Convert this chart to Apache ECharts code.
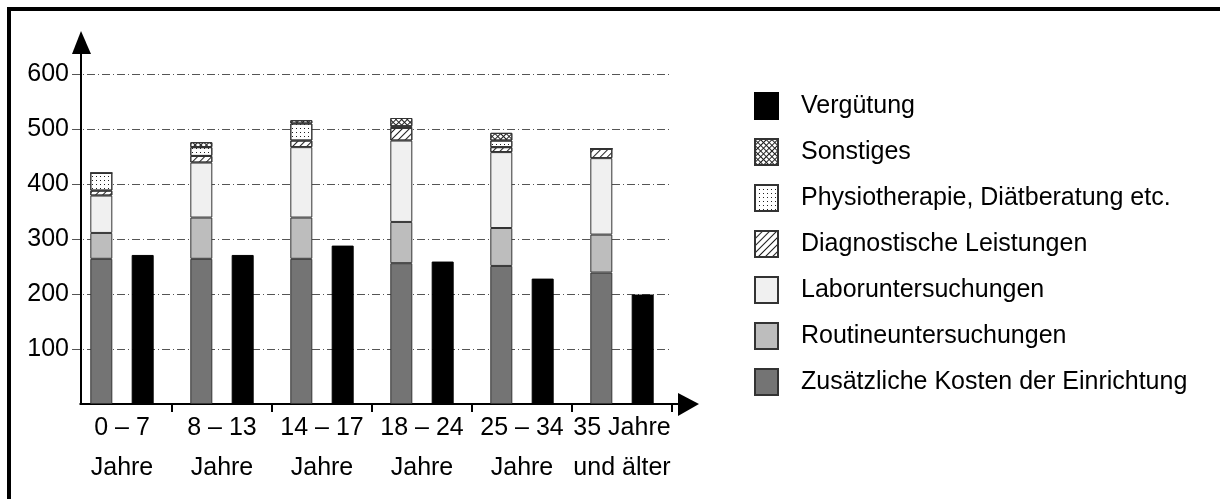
<!DOCTYPE html>
<html>
<head>
<meta charset="utf-8">
<script src="https://cdn.jsdelivr.net/npm/echarts@6/dist/echarts.min.js"></script>
<style>
  html, body { margin:0; padding:0; background:#fff; }
  #wrap { position:relative; width:1220px; height:499px; }
  #chart { position:absolute; left:0; top:0; width:1220px; height:499px; }
  #frame { position:absolute; left:7px; top:7px; right:0; bottom:0; border-top:4px solid #000; border-left:4px solid #000; pointer-events:none; }
</style>
</head>
<body>
<div id="wrap">
  <div id="chart"></div>
  <div id="frame"></div>
</div>
<script>
// Altersgruppen
var kategorien = ['0 – 7\nJahre', '8 – 13\nJahre', '14 – 17\nJahre', '18 – 24\nJahre', '25 – 34\nJahre', '35 Jahre\nund älter'];
// gestapelte Kosten
var zusaetzlich  = [264, 264, 264, 256, 251, 239];
var routine      = [47, 75, 75, 75, 69, 69];
var labor        = [68, 100, 128, 148, 138, 139];
var diagnostik   = [9, 12, 12, 23, 9, 17];
var physio       = [32, 16, 31, 3, 12, 0];
var sonstiges    = [0, 9, 6, 15, 14, 0];
// Vergütung (schwarzer Balken)
var verguetung   = [271, 271, 288, 259, 228, 199];
var yTicks = [0, 100, 200, 300, 400, 500, 600];

var schrift = "'Liberation Sans', Arial, sans-serif";
var rand = '#333';

var chart = echarts.init(document.getElementById('chart'));

function stapel(name, daten, farbe, decal) {
    var style = { color: farbe, borderColor: rand, borderWidth: 1 };
    if (decal) style.decal = decal;
    return {
        name: name,
        type: 'bar',
        stack: 'kosten',
        barWidth: 22,
        barGap: '88%',
        data: daten,
        itemStyle: style,
        emphasis: { disabled: true }
    };
}

var schraffur = { symbol: 'rect', symbolSize: 1, dashArrayX: [1, 0], dashArrayY: [1, 4], rotation: -Math.PI / 4, color: '#222' };
var punkte = { symbol: 'rect', symbolSize: 1, dashArrayX: [1, 3], dashArrayY: [1, 3], color: '#222' };
var gitter = { symbol: 'rect', symbolSize: 1, dashArrayX: [[4, 0], [1, 3]], dashArrayY: [1, 0, 3, 0], rotation: Math.PI / 4, color: '#222' };

var option = {
    animation: false,
    textStyle: { fontFamily: schrift },
    grid: { left: 72, right: 548, top: 74, bottom: 95 },
    legend: {
        orient: 'vertical',
        left: 754,
        top: 92,
        padding: 0,
        itemWidth: 23,
        itemHeight: 26,
        itemGap: 18,
        icon: 'rect',
        selectedMode: false,
        textStyle: { fontFamily: schrift, fontSize: 25, color: '#000', padding: [0, 0, 0, 18] },
        data: ['Vergütung', 'Sonstiges', 'Physiotherapie, Diätberatung etc.', 'Diagnostische Leistungen',
               'Laboruntersuchungen', 'Routineuntersuchungen', 'Zusätzliche Kosten der Einrichtung']
    },
    xAxis: {
        type: 'category',
        data: kategorien,
        axisLine: { lineStyle: { color: '#000', width: 2 } },
        axisTick: { show: true, length: 8, interval: 0, lineStyle: { color: '#000', width: 2 } },
        axisLabel: { interval: 0, margin: 4, fontSize: 25, lineHeight: 40, color: '#000', fontFamily: schrift }
    },
    yAxis: {
        type: 'value',
        min: yTicks[0],
        max: yTicks[yTicks.length - 1],
        interval: 100,
        offset: -9,
        axisLine: { show: true, lineStyle: { color: '#000', width: 2 } },
        axisTick: { show: false },
        axisLabel: { showMinLabel: false, margin: 12, fontSize: 25, color: '#000', fontFamily: schrift },
        splitLine: { lineStyle: { color: '#555', width: 1, type: [8, 3, 1, 3] } }
    },
    series: [
        stapel('Zusätzliche Kosten der Einrichtung', zusaetzlich, '#747474'),
        stapel('Routineuntersuchungen', routine, '#bdbdbd'),
        stapel('Laboruntersuchungen', labor, '#f0f0f0'),
        stapel('Diagnostische Leistungen', diagnostik, '#fff', schraffur),
        stapel('Physiotherapie, Diätberatung etc.', physio, '#fff', punkte),
        stapel('Sonstiges', sonstiges, '#fff', gitter),
        {
            name: 'Vergütung',
            type: 'bar',
            barWidth: 22,
            barGap: '88%',
            data: verguetung,
            itemStyle: { color: '#000', borderColor: '#000', borderWidth: 1 },
            emphasis: { disabled: true }
        }
    ],
    graphic: [
        // x-Achse beginnt erst an der y-Achse
        { type: 'rect', z: 100, shape: { x: 66, y: 400, width: 13.5, height: 16 }, style: { fill: '#fff' } },
        // Pfeile an den Achsen
        { type: 'line', shape: { x1: 81, y1: 75, x2: 81, y2: 50 }, style: { stroke: '#000', lineWidth: 2 } },
        { type: 'polygon', shape: { points: [[81, 31], [72, 54], [91, 54]] }, style: { fill: '#000' } },
        { type: 'line', shape: { x1: 671, y1: 404, x2: 682, y2: 404 }, style: { stroke: '#000', lineWidth: 2 } },
        { type: 'polygon', shape: { points: [[699, 404], [678, 393], [678, 416]] }, style: { fill: '#000' } }
    ]
};

chart.setOption(option);
</script>
</body>
</html>
